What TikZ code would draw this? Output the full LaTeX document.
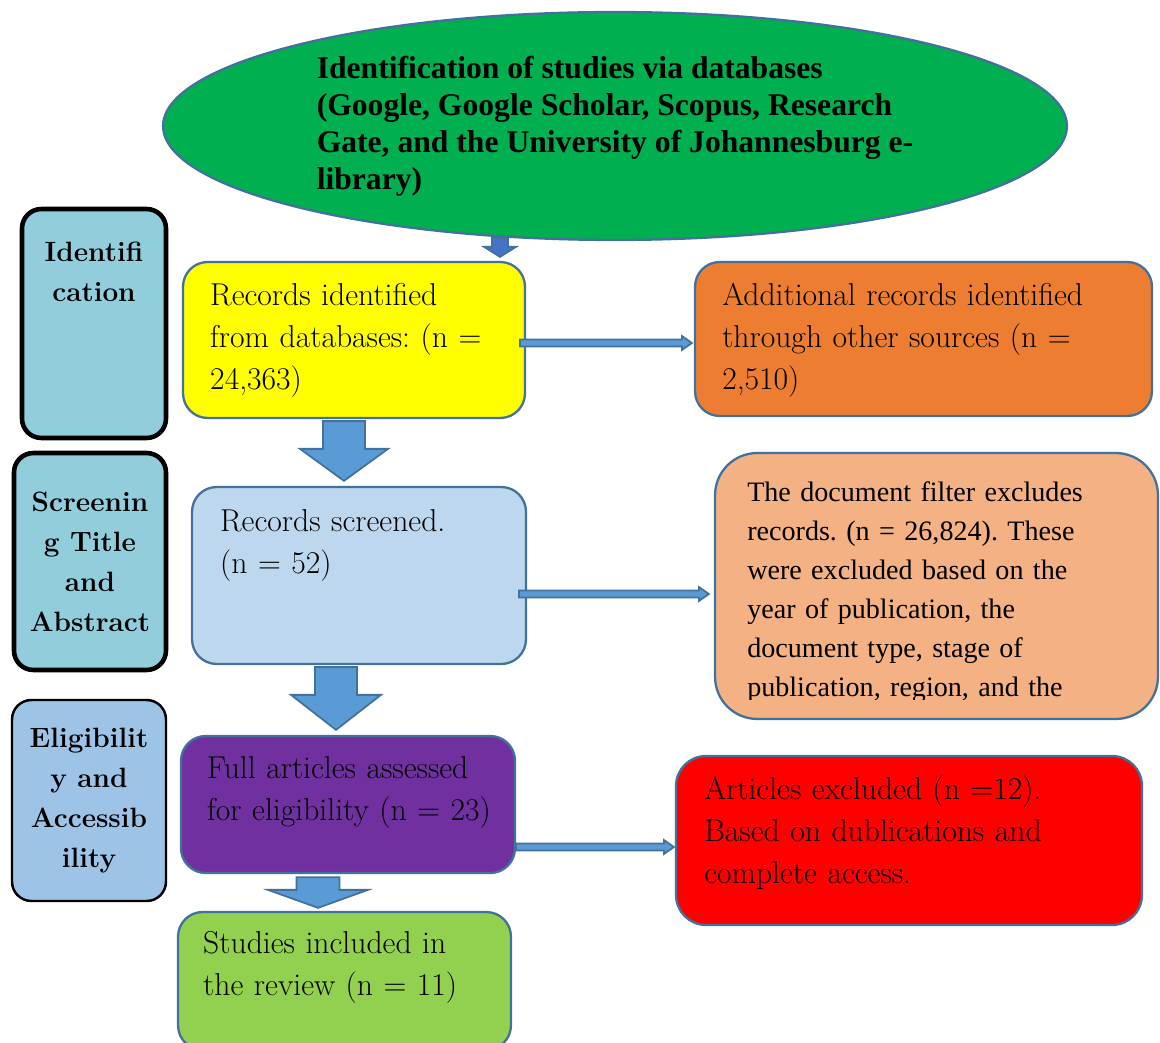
\documentclass[tikz,border=0pt]{standalone}
\usepackage{fontspec}
\newfontfamily\timesfont{Liberation Serif}
\usetikzlibrary{shapes.geometric,calc}
\frenchspacing
\newcommand{\blockdown}[6][arrowfill]{%
  \draw[blockarrow,fill=#1] ($(#2)+(-#4,0)$) -- ($(#2)+(#4,0)$) -- ($(#3)+(#4,-#6)$) -- ($(#3)+(#5,-#6)$) -- (#3) -- ($(#3)+(-#5,-#6)$) -- ($(#3)+(-#4,-#6)$) -- cycle;}
\newcommand{\blockright}[5]{%
  \draw[blockarrow] ($(#1)+(0,-#3)$) -- ($(#2)+(-#5,-#3)$) -- ($(#2)+(-#5,-#4)$) -- (#2) -- ($(#2)+(-#5,#4)$) -- ($(#2)+(-#5,#3)$) -- ($(#1)+(0,#3)$) -- cycle;}
\begin{document}
\begin{tikzpicture}[x=0.02cm,y=-0.02cm,
  stagebox/.style={draw=black,line width=2.6pt,rounded corners=11pt,align=center,font=\bfseries\fontsize{15.9}{22.8}\selectfont},
  flowbox/.style={draw=boxline,line width=1.3pt,rounded corners=14pt},
  boxtext/.style={anchor=base west,text width=#1,align=left,inner sep=0pt,font=\fontsize{18}{23.9}\selectfont},
  boxtext/.default=6.2cm,
  blockarrow/.style={fill=arrowfill,draw=boxline,line width=1pt,line join=miter}]
\definecolor{boxline}{HTML}{41719C}
\definecolor{arrowfill}{HTML}{5B9BD5}
\definecolor{topfill}{HTML}{4472C4}
\definecolor{dbgreen}{HTML}{00B050}
\definecolor{stageteal}{HTML}{92CDDC}
\definecolor{stageblue}{HTML}{9DC3E6}
\definecolor{recyellow}{HTML}{FFFF00}
\definecolor{recorange}{HTML}{ED7D31}
\definecolor{screenblue}{HTML}{BDD7EE}
\definecolor{filterpeach}{HTML}{F4B183}
\definecolor{fullpurple}{HTML}{7030A0}
\definecolor{exclred}{HTML}{FF0000}
\definecolor{inclgreen}{HTML}{92D050}
\useasboundingbox (0,0) rectangle (1160,1043);
\node[ellipse,draw=boxline,line width=1.3pt,fill=dbgreen,minimum width=18.08cm,minimum height=4.56cm,align=left,font=\timesfont\bfseries\fontsize{18}{21}\selectfont] (db) at (615,126) {Identification of studies via databases\\(Google, Google Scholar, Scopus, Research\\Gate, and the University of Johannesburg e-\\library)};
\node[stagebox,fill=stageteal,minimum width=2.88cm,minimum height=4.58cm] (ident) at (94,323.5) {};
\node[anchor=base,text width=2.6cm,align=center,inner sep=0pt,font=\bfseries\fontsize{15.9}{22.8}\selectfont] (identtext) at ($(ident.north)+(0,55)$) {Identifi\\cation};
\node[stagebox,fill=stageteal,minimum width=3.04cm,minimum height=4.34cm] (screen) at (90,561.5) {Screenin\\g Title\\and\\Abstract};
\node[stagebox,fill=stageblue,line width=1.4pt,minimum width=3.08cm,minimum height=4.02cm] (elig) at (89,800.5) {Eligibilit\\y and\\Accessib\\ility};
\node[flowbox,fill=recyellow,minimum width=6.84cm,minimum height=3.12cm] (yellow) at (354,340) {};
\node[boxtext] (yellowtext) at ($(yellow.north west)+(28,45)$) {Records identified\\from databases: (n =\\24,363)};
\node[flowbox,fill=recorange,minimum width=9.14cm,minimum height=3.08cm] (orange) at (923.5,339) {};
\node[boxtext=8.6cm] (orangetext) at ($(orange.north west)+(28,45)$) {Additional records identified\\through other sources (n =\\2,510)};
\node[flowbox,fill=screenblue,minimum width=6.68cm,minimum height=3.54cm] (ltblue) at (359,575.5) {};
\node[boxtext] (ltbluetext) at ($(ltblue.north west)+(29,46)$) {Records screened.\\(n = 52)};
\node[flowbox,fill=filterpeach,rounded corners=24pt,minimum width=8.86cm,minimum height=5.32cm] (peach) at (936.5,586) {};
\begin{scope}
\clip (peach.north west) rectangle ($(peach.south east)+(0,-21)$);
\node[boxtext=8.2cm,font=\timesfont\fontsize{16}{22.2}\selectfont] (peachtext) at ($(peach.north west)+(33,50)$) {The document filter excludes\\records. (n = 26,824). These\\were excluded based on the\\year of publication, the\\document type, stage of\\publication, region, and the};
\end{scope}
\node[flowbox,fill=fullpurple,minimum width=6.68cm,minimum height=2.74cm] (purple) at (348,804.5) {};
\node[boxtext] (purpletext) at ($(purple.north west)+(27,44)$) {Full articles assessed\\for eligibility (n = 23)};
\node[flowbox,fill=exclred,rounded corners=17pt,minimum width=9.32cm,minimum height=3.38cm] (red) at (909,840.5) {};
\node[boxtext=8.6cm] (redtext) at ($(red.north west)+(29,45)$) {Articles excluded (n =12).\\Based on dublications and\\complete access.};
\node[flowbox,fill=inclgreen,minimum width=6.66cm,minimum height=2.76cm] (green) at (344.5,981) {};
\node[boxtext] (greentext) at ($(green.north west)+(26,43)$) {Studies included in\\the review (n = 11)};
\path (500,0 |- db.south) ++(0,-3) coordinate (a0s);
\path (500,0 |- yellow.north) ++(0,-4) coordinate (a0t);
\blockdown[topfill]{a0s}{a0t}{8}{16}{10}
\path (344,0 |- yellow.south) ++(0,2) coordinate (a1s);
\path (344,0 |- ltblue.north) ++(0,-5) coordinate (a1t);
\blockdown{a1s}{a1t}{21}{44}{32}
\path (336,0 |- ltblue.south) ++(0,2) coordinate (a2s);
\path (336,0 |- purple.north) ++(0,-5) coordinate (a2t);
\blockdown{a2s}{a2t}{21}{45}{35}
\path (318,0 |- purple.south) ++(0,3) coordinate (a3s);
\path (318,0 |- green.north) ++(0,-3) coordinate (a3t);
\blockdown{a3s}{a3t}{21.5}{50}{18}
\path (yellow.east |- 0,343) ++(-6,0) coordinate (h1s);
\path (orange.west |- 0,343) ++(-2,0) coordinate (h1t);
\blockright{h1s}{h1t}{3.5}{7}{10}
\path (ltblue.east |- 0,594) ++(-8,0) coordinate (h2s);
\path (peach.west |- 0,594) ++(-5,0) coordinate (h2t);
\blockright{h2s}{h2t}{3.5}{7}{10}
\path (purple.east |- 0,847) coordinate (h3s);
\path (red.west |- 0,847) ++(-1,0) coordinate (h3t);
\blockright{h3s}{h3t}{3.5}{7}{10}
\end{tikzpicture}
\end{document}
